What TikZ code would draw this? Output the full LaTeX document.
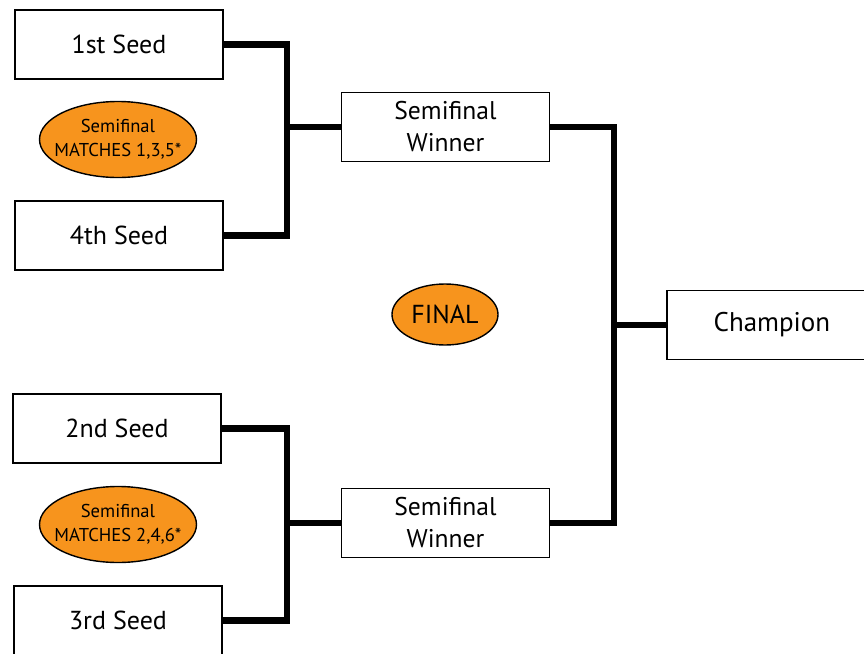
\documentclass[tikz,border=0pt]{standalone}
\usepackage{fontspec}
\setmainfont{PT Sans}
\usetikzlibrary{shapes.geometric}
\definecolor{seedorange}{HTML}{F7941D}

\begin{document}
\begin{tikzpicture}[x=0.5pt, y=-0.5pt,
    slot/.style={draw, line width=0.9pt, fill=white, minimum width=104pt, minimum height=34.5pt, inner sep=0pt, font=\fontsize{13}{15}\selectfont, align=center},
    tag/.style={draw, ellipse, line width=0.7pt, fill=seedorange, inner sep=0pt, align=center},
    note/.style={tag, inner xsep=-6pt, minimum width=78.5pt, minimum height=38pt, font=\fontsize{9.3}{12}\selectfont},
    bracket/.style={line width=3.2pt, line join=miter}]
  \useasboundingbox (0,0) rectangle (864,654);
  % first round
  \node[slot] (s1) at (119,44.5) {1st Seed};
  \node[slot] (s4) at (119,235.5) {4th Seed};
  \node[slot] (s2) at (117,428.5) {2nd Seed};
  \node[slot] (s3) at (118,620.5) {3rd Seed};
  % match notes
  \node[note] (m1) at (118,139.5) {Semifinal\\MATCHES 1,3,5*};
  \node[note] (m2) at (118,524.5) {Semifinal\\MATCHES 2,4,6*};
  % semifinal winners
  \node[slot, font=\fontsize{12.8}{16}\selectfont] (w1) at (445.5,127) {Semifinal\\Winner};
  \node[slot, font=\fontsize{12.8}{16}\selectfont] (w2) at (445.5,523) {Semifinal\\Winner};
  \node[tag, minimum width=53pt, minimum height=30.5pt, font=\fontsize{13}{15}\selectfont] (fin) at (445,314.5) {FINAL};
  % champion
  \node[slot, minimum width=105pt, anchor=west, font=\fontsize{13.5}{15}\selectfont] (ch) at (666,325) {Champion};
  % brackets
  \coordinate (j1) at (287,127);
  \coordinate (j2) at (287,523);
  \coordinate (j3) at (614,325);
  \draw[bracket] (s1.east) -| (j1) |- (s4.east);
  \draw[bracket] (j1) -- (w1.west);
  \draw[bracket] (s2.east) -| (j2) |- (s3.east);
  \draw[bracket] (j2) -- (w2.west);
  \draw[bracket] (w1.east) -| (j3) |- (w2.east);
  \draw[bracket] (j3) -- (ch.west);
\end{tikzpicture}
\end{document}
